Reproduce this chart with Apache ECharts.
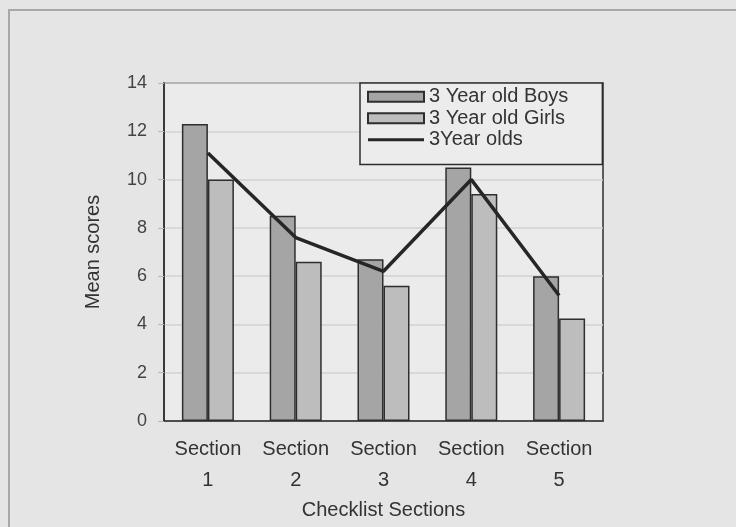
<!DOCTYPE html>
<html>
<head>
<meta charset="utf-8">
<script src="https://cdn.jsdelivr.net/npm/echarts@6/dist/echarts.min.js"></script>
<style>
  html, body { margin: 0; padding: 0; background: #e5e5e5; }
  #chart { width: 736px; height: 527px; }
</style>
</head>
<body>
<div id="chart"></div>
<script>
// Mean checklist scores per section
const sections = ['Section\n1', 'Section\n2', 'Section\n3', 'Section\n4', 'Section\n5'];
const boys = [12.3, 8.5, 6.7, 10.5, 6.0];
const girls = [10.0, 6.6, 5.6, 9.4, 4.25];
const allThreeYearOlds = [11.1, 7.6, 6.2, 10.0, 5.2];
const yTicks = { min: 0, max: 14, interval: 2 };

const font = '"Liberation Sans", Arial, sans-serif';
const chart = echarts.init(document.getElementById('chart'), null, { renderer: 'canvas' });

// thin horizontal bar inside a full-height box, used as the line's legend key
const lineKey = 'path://M0,0M56,10M0,3.6H56V6.6H0Z';

chart.setOption({
  backgroundColor: '#e5e5e5',
  animation: false,
  textStyle: { fontFamily: font },
  grid: {
    left: 164, right: 133, top: 83, bottom: 106,
    show: true, backgroundColor: '#ebebeb',
    borderColor: '#2e2e2e', borderWidth: 1.5
  },
  legend: {
    orient: 'vertical',
    left: 360, top: 83,
    padding: [3, 34, 14, 7],
    itemGap: 0,
    itemWidth: 56, itemHeight: 10,
    backgroundColor: '#ececec',
    borderColor: '#2e2e2e', borderWidth: 1.5,
    textStyle: { fontSize: 20, color: '#333', fontFamily: font, lineHeight: 21.5 },
    data: [
      { name: '3 Year old Boys', icon: 'rect' },
      { name: '3 Year old Girls', icon: 'rect' },
      { name: '3Year olds', icon: lineKey, itemStyle: { color: '#262626', borderWidth: 0 } }
    ]
  },
  xAxis: {
    type: 'category',
    data: sections,
    name: 'Checklist Sections',
    nameLocation: 'middle',
    nameGap: 74,
    nameTextStyle: { fontSize: 20, color: '#333', fontFamily: font },
    axisLine: { lineStyle: { color: '#2e2e2e', width: 1.5 } },
    axisTick: { show: false },
    axisLabel: { fontSize: 20, color: '#333', lineHeight: 31, margin: 13, fontFamily: font }
  },
  yAxis: {
    type: 'value',
    min: yTicks.min, max: yTicks.max, interval: yTicks.interval,
    name: 'Mean scores',
    nameLocation: 'middle',
    nameGap: 61,
    nameTextStyle: { fontSize: 20, color: '#333', fontFamily: font },
    axisLine: { show: true, lineStyle: { color: '#2e2e2e', width: 1.5 } },
    axisTick: { show: true, length: 6, lineStyle: { color: '#b5b5b5' } },
    axisLabel: { fontSize: 18, color: '#444', margin: 17, fontFamily: font },
    splitLine: { lineStyle: { color: '#d2d2d2', width: 1.5 } }
  },
  series: [
    {
      name: '3 Year old Boys', type: 'bar', data: boys,
      barWidth: 26, barGap: '0%',
      itemStyle: { color: '#a5a5a5', borderColor: '#2e2e2e', borderWidth: 1.5 }
    },
    {
      name: '3 Year old Girls', type: 'bar', data: girls,
      barWidth: 26,
      itemStyle: { color: '#bdbdbd', borderColor: '#2e2e2e', borderWidth: 1.5 }
    },
    {
      name: '3Year olds', type: 'line', data: allThreeYearOlds,
      symbol: 'none', z: 5,
      lineStyle: { color: '#262626', width: 3.5 },
      itemStyle: { color: '#262626' }
    }
  ],
  graphic: [
    {
      type: 'polyline',
      shape: { points: [[9, 527], [9, 10], [736, 10]] },
      style: { stroke: '#a8a8a8', lineWidth: 2, fill: null }
    }
  ]
});
</script>
</body>
</html>
